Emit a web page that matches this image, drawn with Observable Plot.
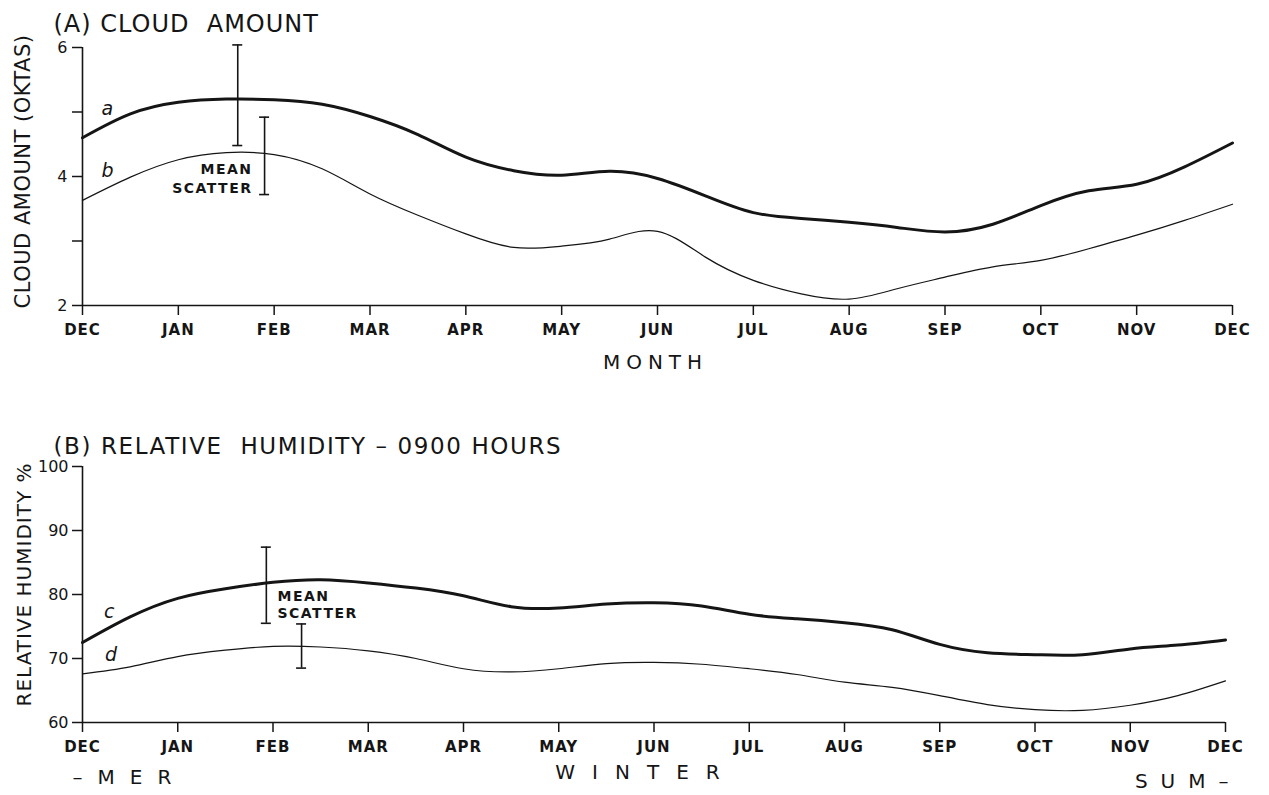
<!DOCTYPE html>
<html>
<head>
<meta charset="utf-8">
<script src="https://cdn.jsdelivr.net/npm/d3@7"></script>
<script src="https://cdn.jsdelivr.net/npm/@observablehq/plot@0.6"></script>
<style>
  html, body { margin: 0; padding: 0; background: #fff; }
  #chart { position: relative; width: 1269px; height: 795px; }
  #chart svg { display: block; }
</style>
</head>
<body>
<div id="chart"></div>
<script>
// Month axis: December to December, one tick per month
const monthLabels = ["DEC", "JAN", "FEB", "MAR", "APR", "MAY", "JUN", "JUL", "AUG", "SEP", "OCT", "NOV", "DEC"];

// Sample positions along the year (months after December, half-month steps)
const monthPos = [0, 0.5, 1, 1.5, 2, 2.5, 3, 3.5, 4, 4.5, 5, 5.5, 6, 6.5, 7, 7.5, 8, 8.5, 9, 9.5, 10, 10.5, 11, 11.5, 12];

// (A) Cloud amount, oktas
const cloudA = [4.60, 4.97, 5.15, 5.20, 5.19, 5.12, 4.93, 4.65, 4.30, 4.09, 4.02, 4.08, 3.97, 3.70, 3.44, 3.35, 3.29, 3.21, 3.14, 3.26, 3.55, 3.78, 3.88, 4.15, 4.52];
const cloudB = [3.63, 3.99, 4.26, 4.37, 4.34, 4.12, 3.73, 3.40, 3.11, 2.90, 2.92, 3.03, 3.15, 2.75, 2.39, 2.18, 2.10, 2.26, 2.44, 2.60, 2.70, 2.88, 3.09, 3.32, 3.57];

// (B) Relative humidity at 0900 hours, percent
const humidC = [72.5, 76.5, 79.4, 80.9, 81.9, 82.3, 81.8, 81.0, 79.8, 78.1, 77.9, 78.5, 78.7, 78.2, 76.9, 76.2, 75.6, 74.5, 72.2, 70.9, 70.6, 70.6, 71.5, 72.1, 72.9];
const humidD = [67.6, 68.7, 70.3, 71.3, 71.9, 71.8, 71.2, 70.0, 68.4, 67.9, 68.4, 69.2, 69.4, 69.1, 68.4, 67.5, 66.3, 65.5, 64.2, 62.8, 62.0, 61.9, 62.7, 64.2, 66.5];

// Mean scatter bars: position (months) and extent
const cloudScatterAt = [1.62, 1.90];
const cloudScatterLow = [4.48, 3.72];
const cloudScatterHigh = [6.04, 4.92];
const humidScatterAt = [1.93, 2.30];
const humidScatterLow = [75.5, 68.5];
const humidScatterHigh = [87.4, 75.4];

// Axis ticks
const cloudTicks = [2, 3, 4, 5, 6];
const humidTicks = [60, 70, 80, 90, 100];

const rows = (vals) => monthPos.map((m, i) => ({m, v: vals[i]}));
const bars = (at, lo, hi) => at.map((x, i) => ({x, lo: lo[i], hi: hi[i]}));

const font = "'DejaVu Sans', sans-serif";
const ink = "#151515";

function scatterBars(data) {
  return [
    Plot.ruleX(data, {x: "x", y1: "lo", y2: "hi", stroke: ink, strokeWidth: 1.6}),
    Plot.ruleY(data, {y: "lo", x1: "x", x2: "x", insetLeft: -5, insetRight: -5, stroke: ink, strokeWidth: 1.6}),
    Plot.ruleY(data, {y: "hi", x1: "x", x2: "x", insetLeft: -5, insetRight: -5, stroke: ink, strokeWidth: 1.6})
  ];
}

function monthAxis() {
  return Plot.axisX({
    ticks: d3.range(13),
    tickFormat: (i) => monthLabels[i],
    tickSize: 10,
    tickPadding: 9,
    fontWeight: "bold",
    fontSize: 15,
    label: null,
    stroke: ink,
    strokeWidth: 1.5
  });
}

const plotA = Plot.plot({
  width: 1269,
  height: 395,
  marginLeft: 82,
  marginRight: 37,
  marginTop: 47,
  marginBottom: 90,
  x: {domain: [0, 12]},
  y: {domain: [2, 6]},
  style: {fontFamily: font, fontSize: "16px", color: ink, background: "#fff", overflow: "visible"},
  marks: [
    Plot.ruleX([0], {stroke: ink, strokeWidth: 1.6}),
    Plot.ruleY([2], {stroke: ink, strokeWidth: 1.6}),
    monthAxis(),
    Plot.axisY({ticks: cloudTicks, tickFormat: (d) => (d % 2 === 0 ? d : ""), tickSize: 10, tickPadding: 5, fontSize: 16, label: null, stroke: ink, strokeWidth: 1.5}),
    Plot.line(rows(cloudA), {x: "m", y: "v", curve: "natural", stroke: ink, strokeWidth: 3}),
    Plot.line(rows(cloudB), {x: "m", y: "v", curve: "natural", stroke: ink, strokeWidth: 1.2}),
    ...scatterBars(bars(cloudScatterAt, cloudScatterLow, cloudScatterHigh)),
    Plot.text(["MEAN\nSCATTER"], {x: 1.774, y: 3.98, textAnchor: "end", lineHeight: 1.36, fontWeight: "bold", fontSize: 14}),
    Plot.text(["a"], {x: 0.26, y: 5.05, fontStyle: "italic", fontSize: 19}),
    Plot.text(["b"], {x: 0.26, y: 4.09, fontStyle: "italic", fontSize: 19}),
    Plot.text(["(A) CLOUD\u00a0 AMOUNT"], {frameAnchor: "top-left", dx: -29, dy: -23, textAnchor: "start", lineAnchor: "middle", fontSize: 24}),
    Plot.text(["CLOUD AMOUNT (OKTAS)"], {frameAnchor: "left", textAnchor: "middle", lineAnchor: "middle", rotate: -90, dx: -59, dy: -5, fontSize: 21}),
    Plot.text(["MONTH"], {frameAnchor: "bottom", dx: -2, dy: 63, fontSize: 20})
  ]
});

const plotB = Plot.plot({
  width: 1269,
  height: 400,
  marginLeft: 82,
  marginRight: 44,
  marginTop: 71,
  marginBottom: 73,
  x: {domain: [0, 12]},
  y: {domain: [60, 100]},
  style: {fontFamily: font, fontSize: "16px", color: ink, background: "#fff", overflow: "visible"},
  marks: [
    Plot.ruleX([0], {stroke: ink, strokeWidth: 1.6}),
    Plot.ruleY([60], {stroke: ink, strokeWidth: 1.6}),
    monthAxis(),
    Plot.axisY({ticks: humidTicks, tickSize: 10, tickPadding: 4, fontSize: 16, label: null, stroke: ink, strokeWidth: 1.5}),
    Plot.line(rows(humidC), {x: "m", y: "v", curve: "natural", stroke: ink, strokeWidth: 3}),
    Plot.line(rows(humidD), {x: "m", y: "v", curve: "natural", stroke: ink, strokeWidth: 1.2}),
    ...scatterBars(bars(humidScatterAt, humidScatterLow, humidScatterHigh)),
    Plot.text(["MEAN\nSCATTER"], {x: 2.047, y: 78.5, textAnchor: "start", lineHeight: 1.24, fontWeight: "bold", fontSize: 14}),
    Plot.text(["c"], {x: 0.28, y: 77.3, fontStyle: "italic", fontSize: 19}),
    Plot.text(["d"], {x: 0.30, y: 70.5, fontStyle: "italic", fontSize: 19}),
    Plot.text(["(B) RELATIVE\u00a0 HUMIDITY \u2013 0900 HOURS"], {frameAnchor: "top-left", dx: -29, dy: -20, textAnchor: "start", lineAnchor: "middle", fontSize: 23}),
    Plot.text(["RELATIVE HUMIDITY %"], {frameAnchor: "left", textAnchor: "middle", lineAnchor: "middle", rotate: -90, dx: -58, dy: -10, fontSize: 20}),
    Plot.text(["\u2013MER"], {frameAnchor: "bottom-left", dx: -10, dy: 61, textAnchor: "start", fontSize: 20}),
    Plot.text(["WINTER"], {frameAnchor: "bottom", dx: -8, dy: 56, fontSize: 20}),
    Plot.text(["SUM\u2013"], {frameAnchor: "bottom-right", dx: 16, dy: 65, textAnchor: "end", fontSize: 20})
  ]
});

// Letter-spaced captions and titles
const spacing = {
  "MONTH": "6px", "WINTER": "17px", "\u2013MER": "15px", "SUM\u2013": "13px",
  "MEAN": "1.5px", "SCATTER": "1.5px",
  "(A) CLOUD\u00a0 AMOUNT": "1px", "(B) RELATIVE\u00a0 HUMIDITY \u2013 0900 HOURS": "1.6px",
  "CLOUD AMOUNT (OKTAS)": "0.5px", "RELATIVE HUMIDITY %": "1px"
};
for (const svg of [plotA, plotB]) {
  d3.select(svg).selectAll("text, tspan").each(function () {
    const s = spacing[this.textContent];
    if (s) d3.select(this).style("letter-spacing", s);
  });
  d3.select(svg).selectAll("g[aria-label='x-axis tick label'] text").style("letter-spacing", "1px");
}

document.getElementById("chart").append(plotA, plotB);
</script>
</body>
</html>
